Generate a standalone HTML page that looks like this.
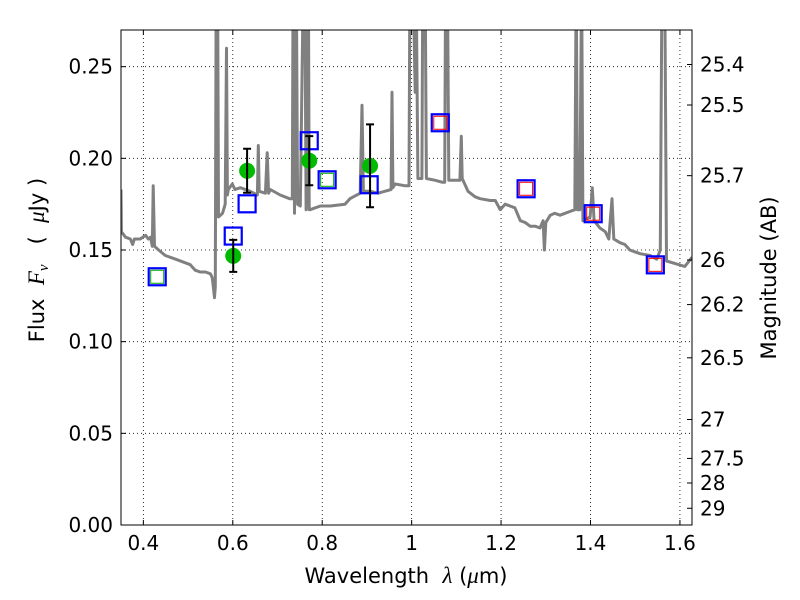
<!DOCTYPE html>
<html><head><meta charset="utf-8">
<style>
html,body{margin:0;padding:0;background:#fff;width:800px;height:600px;overflow:hidden}
text{font-family:"DejaVu Sans","Liberation Sans",sans-serif;fill:#000}
</style></head>
<body>
<svg id="chart" width="800" height="600" viewBox="0 0 800 600" xmlns="http://www.w3.org/2000/svg">
<rect width="800" height="600" fill="#fff"/>
<defs><clipPath id="clip"><rect x="121" y="30" width="571" height="495"/></clipPath></defs>
<g id="grid"></g>
<g id="spec" clip-path="url(#clip)"></g>
<g id="marks" clip-path="url(#clip)"></g>
<rect x="121" y="30" width="571" height="495" fill="none" stroke="#000" stroke-width="1"/>
<g id="axes"></g>
<text x="406" y="583" font-size="21" text-anchor="middle" xml:space="preserve">Wavelength  <tspan font-style="italic" font-family="Liberation Serif, serif" font-size="23">λ</tspan> (<tspan font-style="italic" font-family="Liberation Serif, serif" font-size="23">μ</tspan>m)</text>
<text transform="translate(44,260) rotate(-90)" font-size="21" text-anchor="middle" xml:space="preserve">Flux  <tspan font-style="italic" font-family="Liberation Serif, serif" font-size="23">F</tspan><tspan font-style="italic" font-family="Liberation Serif, serif" font-size="15" dy="4">ν</tspan><tspan dy="-4">   (  </tspan><tspan font-style="italic" font-family="Liberation Serif, serif" font-size="23">μ</tspan>Jy )</text>
<text transform="translate(776,278) rotate(-90)" font-size="21" text-anchor="middle">Magnitude (AB)</text>
</svg>
<script>
const xTicks=[0.4,0.6,0.8,1.0,1.2,1.4,1.6];
const xTickLabels=["0.4","0.6","0.8","1","1.2","1.4","1.6"];
const yTicks=[0,0.05,0.10,0.15,0.20,0.25];
const yTickLabels=["0.00","0.05","0.10","0.15","0.20","0.25"];
const magTicks=[25.4,25.5,25.7,26,26.2,26.5,27,27.5,28,29];
const magLabels=["25.4","25.5","25.7","26","26.2","26.5","27","27.5","28","29"];
const specLam=[0.350,0.351,0.360,0.371,0.376,0.380,0.393,0.405,0.411,0.416,0.420,0.422,0.425,0.434,0.449,0.472,0.505,0.516,0.527,0.539,0.550,0.554,0.556,0.559,0.561,0.563,0.566,0.568,0.577,0.583,0.586,0.588,0.590,0.599,0.605,0.617,0.639,0.655,0.657,0.659,0.673,0.677,0.680,0.684,0.706,0.727,0.733,0.735,0.738,0.740,0.742,0.745,0.751,0.758,0.761,0.764,0.769,0.771,0.773,0.796,0.818,0.851,0.862,0.885,0.889,0.892,0.908,0.925,0.954,0.956,0.958,0.963,0.986,0.994,0.996,1.003,1.008,1.010,1.014,1.023,1.025,1.030,1.033,1.053,1.068,1.074,1.076,1.080,1.083,1.097,1.108,1.111,1.113,1.126,1.142,1.153,1.176,1.187,1.198,1.209,1.220,1.231,1.243,1.254,1.265,1.276,1.287,1.294,1.297,1.300,1.310,1.320,1.332,1.343,1.354,1.365,1.368,1.371,1.376,1.380,1.383,1.399,1.404,1.408,1.421,1.433,1.441,1.448,1.452,1.466,1.477,1.488,1.511,1.533,1.548,1.556,1.560,1.566,1.570,1.598,1.611,1.627];
const specFlux=[0.183,0.160,0.157,0.156,0.153,0.156,0.156,0.158,0.156,0.157,0.152,0.185,0.152,0.150,0.147,0.145,0.142,0.139,0.138,0.138,0.137,0.135,0.131,0.124,0.130,0.30,0.30,0.168,0.170,0.175,0.260,0.180,0.183,0.186,0.183,0.184,0.182,0.180,0.207,0.182,0.181,0.203,0.181,0.183,0.180,0.178,0.178,0.30,0.170,0.30,0.30,0.175,0.174,0.30,0.30,0.172,0.30,0.172,0.172,0.174,0.174,0.175,0.178,0.181,0.229,0.182,0.182,0.181,0.183,0.236,0.184,0.186,0.185,0.185,0.30,0.30,0.236,0.30,0.189,0.189,0.30,0.30,0.189,0.188,0.187,0.187,0.30,0.30,0.188,0.188,0.188,0.212,0.189,0.182,0.179,0.178,0.177,0.177,0.172,0.175,0.174,0.173,0.166,0.165,0.163,0.163,0.162,0.166,0.150,0.165,0.169,0.170,0.169,0.170,0.171,0.172,0.30,0.172,0.172,0.30,0.166,0.168,0.184,0.166,0.162,0.160,0.156,0.178,0.156,0.154,0.153,0.150,0.148,0.147,0.145,0.150,0.30,0.30,0.144,0.142,0.141,0.146];
const obsLam=[0.431,0.601,0.632,0.771,0.811,0.905,1.064,1.256,1.406,1.545];
const obsFlux=[0.1354,0.1576,0.1752,0.2096,0.1883,0.1856,0.2194,0.1834,0.1698,0.1419];
const greenSqLam=[0.431,0.811];
const greenSqFlux=[0.1354,0.1883];
const redSqLam=[1.064,1.256,1.406,1.545];
const redSqFlux=[0.2194,0.1834,0.1698,0.1419];
const ptLam=[0.601,0.632,0.771,0.907];
const ptFlux=[0.1468,0.1932,0.1987,0.1959];
const ptErr=[0.0087,0.012,0.0134,0.0226];

const X0=121,X1=692,Y0=525,Y1=30,xmin=0.35,xmax=1.627,ymin=0,ymax=0.27;
const sx=v=>X0+(v-xmin)/(xmax-xmin)*(X1-X0);
const sy=v=>Y0-(v-ymin)/(ymax-ymin)*(Y0-Y1);
const NS="http://www.w3.org/2000/svg";
function mk(tag,parent,attrs){const e=document.createElementNS(NS,tag);for(const k in attrs)e.setAttribute(k,attrs[k]);parent.appendChild(e);return e;}
const grid=document.getElementById('grid'),axes=document.getElementById('axes'),spec=document.getElementById('spec'),marks=document.getElementById('marks');

xTicks.forEach((t,i)=>{const x=sx(t);
 const g=mk('line',grid,{x1:x,x2:x,y1:Y1,y2:Y0,stroke:'#000','stroke-width':0.8,'stroke-dasharray':'1,3'});
 
 
 const a=mk('line',axes,{x1:x,x2:x,y1:Y0,y2:Y0-5,stroke:'#000'});
 
 
 const b=mk('line',axes,{x1:x,x2:x,y1:Y1,y2:Y1+5,stroke:'#000'});
 
 
 const tx=mk('text',axes,{x:x,y:Y0+25,'font-size':20,'text-anchor':'middle'});tx.textContent=xTickLabels[i];
 
 
});
yTicks.forEach((t,i)=>{const y=sy(t);
 const g=mk('line',grid,{x1:X0,x2:X1,y1:y,y2:y,stroke:'#000','stroke-width':0.8,'stroke-dasharray':'1,3'});
 
 
 const a=mk('line',axes,{x1:X0,x2:X0+5,y1:y,y2:y,stroke:'#000'});
 
 
 const tx=mk('text',axes,{x:X0-8,y:y+7,'font-size':20,'text-anchor':'end'});tx.textContent=yTickLabels[i];
 
 
});
magTicks.forEach((m,i)=>{const f=Math.pow(10,(23.9-m)/2.5);const y=sy(f);
 const a=mk('line',axes,{x1:X1,x2:X1-5,y1:y,y2:y,stroke:'#000'});
 
 
 const tx=mk('text',axes,{x:X1+8,y:y+7,'font-size':20,'text-anchor':'start'});tx.textContent=magLabels[i];
 
 
});
const pts=specLam.map((l,i)=>sx(l).toFixed(1)+','+sy(specFlux[i]).toFixed(1)).join(' ');
const sp=mk('polyline',spec,{points:pts,fill:'none',stroke:'#808080','stroke-width':3,'stroke-linejoin':'round'});



obsLam.forEach((l,i)=>{const x=sx(l),y=sy(obsFlux[i]);
 const r=mk('rect',marks,{x:x-8.5,y:y-8.5,width:17,height:17,fill:'none',stroke:'#0000ff','stroke-width':2.2});
 
 
});
greenSqLam.forEach((l,i)=>{const x=sx(l),y=sy(greenSqFlux[i]);
 const r=mk('rect',marks,{x:x-6.5,y:y-6.5,width:13,height:13,fill:'none',stroke:'#00aa00','stroke-width':1});
 
 
});
redSqLam.forEach((l,i)=>{const x=sx(l),y=sy(redSqFlux[i]);
 const r=mk('rect',marks,{x:x-6.5,y:y-6.5,width:13,height:13,fill:'none',stroke:'#ff0000','stroke-width':1});
 
 
});
ptLam.forEach((l,i)=>{const x=sx(l),y=sy(ptFlux[i]),y1=sy(ptFlux[i]+ptErr[i]),y2=sy(ptFlux[i]-ptErr[i]);
 const c=mk('circle',marks,{cx:x,cy:y,r:8,fill:'#00bb00'});
 
 
 const e=mk('path',marks,{d:`M${x},${y1}V${y2}M${x-4},${y1}H${x+4}M${x-4},${y2}H${x+4}`,stroke:'#000','stroke-width':2,fill:'none'});
 
 
});
</script>
</body></html>
